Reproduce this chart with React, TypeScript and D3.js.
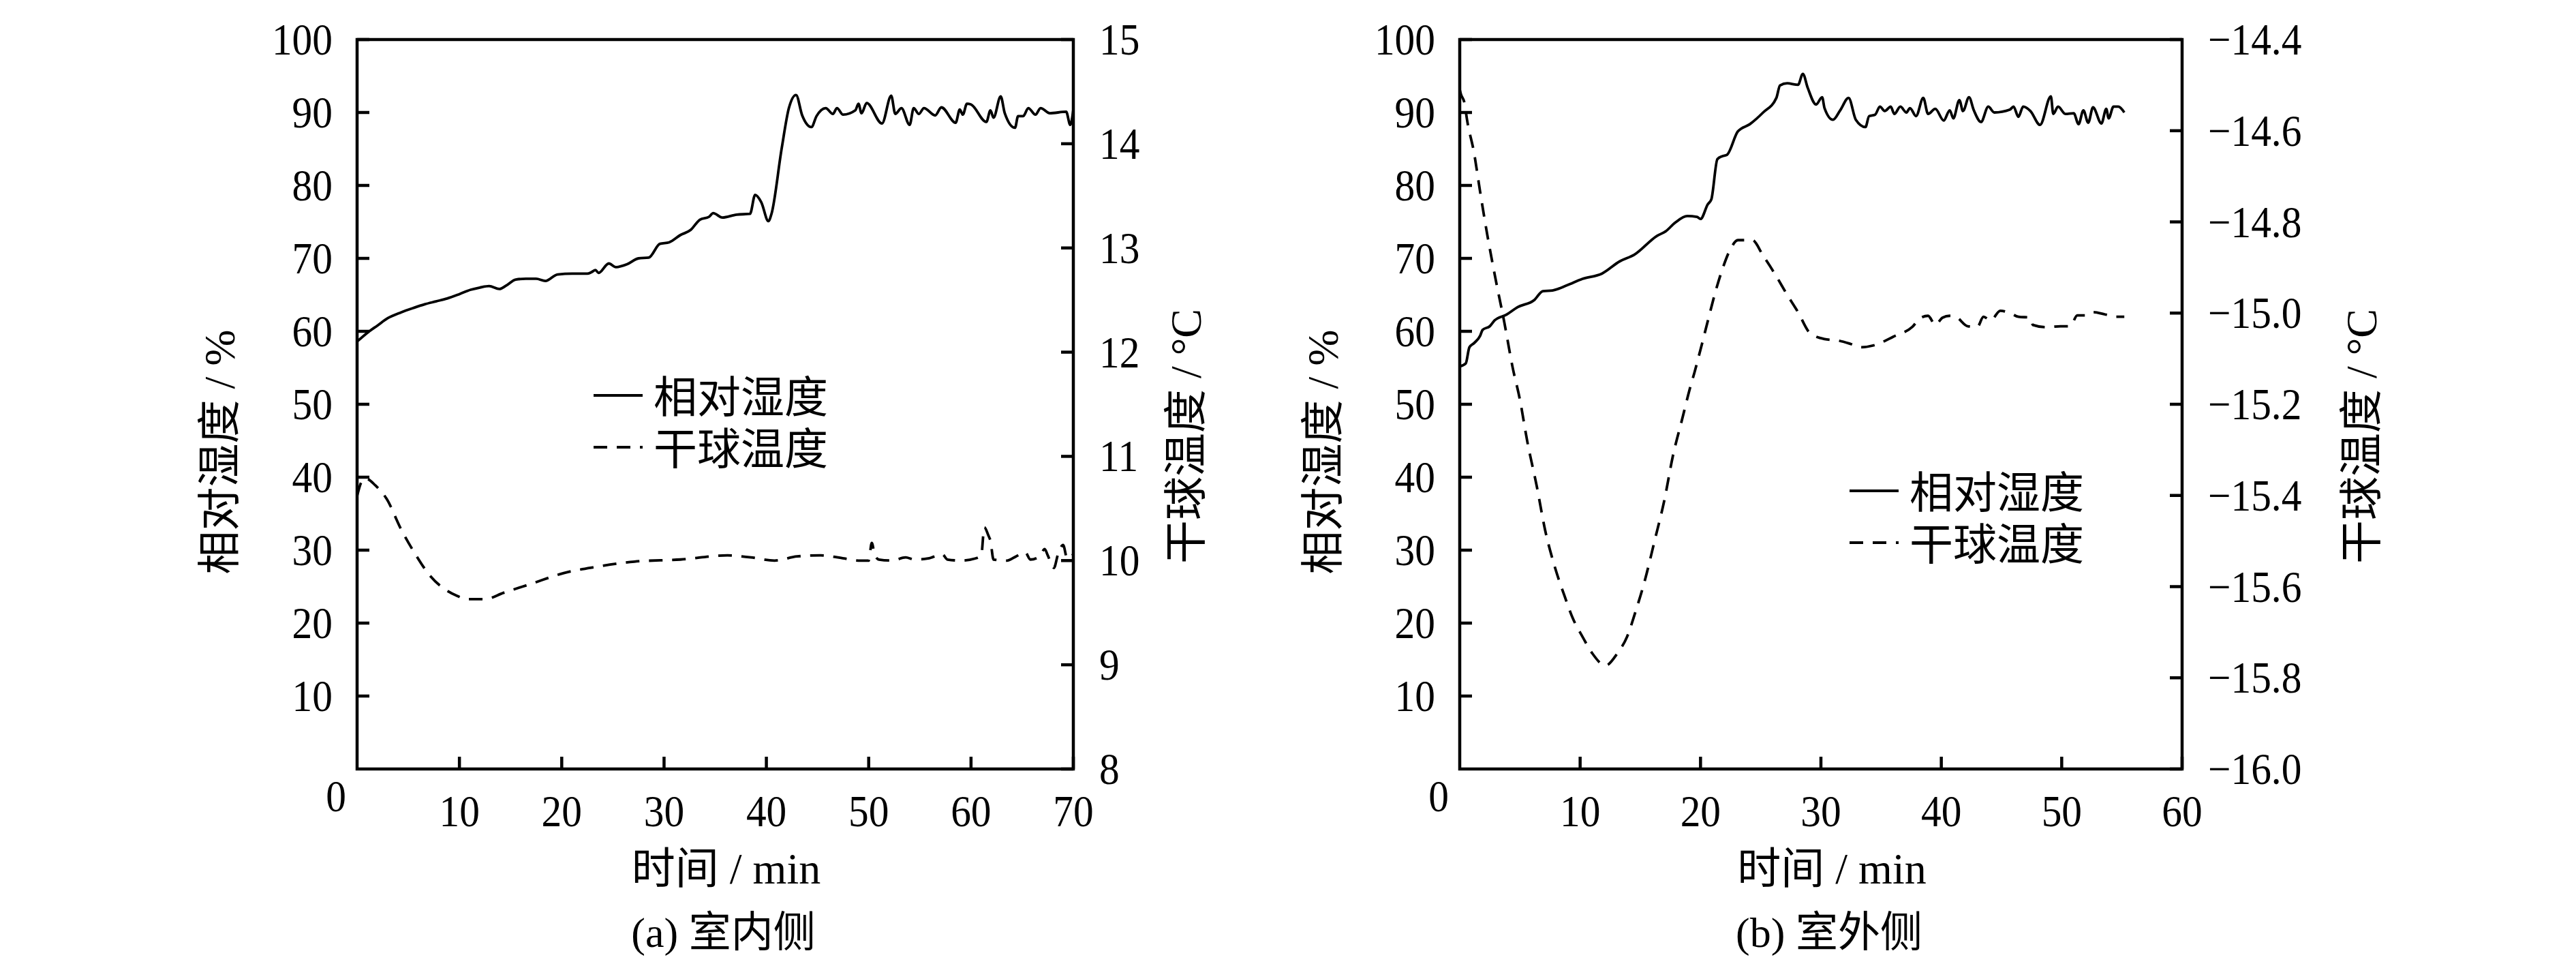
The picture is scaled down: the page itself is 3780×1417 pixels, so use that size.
import React from 'react';
import * as d3 from 'd3';

// (a) indoor side: [time min, relative humidity %]
const indoorRH: [number, number][] = [
  [0, 58.6], [1, 59.8], [2, 60.8], [3, 61.8], [4.3, 62.6], [5.5, 63.2], [6.6, 63.7], [7.7, 64.1],
  [8.8, 64.5], [10, 65.1], [11.1, 65.7], [12, 66.0], [12.9, 66.2], [13.9, 65.8], [14.6, 66.3],
  [15.5, 67.1], [16.5, 67.2], [17.5, 67.2], [18.4, 66.9], [19.6, 67.8], [21, 67.9], [22.5, 67.9],
  [22.9, 68.1], [23.3, 68.4], [23.6, 68.0], [24.6, 69.3], [25.3, 68.8], [26.4, 69.2], [27.5, 70.0],
  [28.5, 70.1], [29.6, 72.0], [30.5, 72.2], [31.6, 73.2], [32.6, 73.9], [33.5, 75.3], [34.4, 75.7],
  [34.8, 76.2], [35.7, 75.6], [37.1, 76.0], [38.4, 76.1], [38.9, 78.7], [39.5, 77.7], [40.2, 75.1],
  [40.5, 76.1], [41.5, 85.1], [42.2, 90.6], [42.9, 92.4], [43.5, 89.6], [44.4, 88.0], [44.9, 89.5],
  [45.8, 90.6], [46.5, 89.8], [46.9, 90.6], [47.5, 89.7], [48.7, 90.3], [49.0, 91.2], [49.3, 89.9],
  [49.8, 91.3], [51.3, 88.5], [52.2, 92.3], [52.6, 89.8], [53.2, 90.6], [54.0, 88.3], [54.4, 90.6],
  [54.9, 89.8], [55.4, 90.6], [56.5, 89.6], [57.1, 90.7], [58.5, 88.6], [58.9, 90.4], [59.2, 89.7],
  [59.6, 91.2], [60.0, 91.1], [61.5, 88.7], [61.9, 90.3], [62.2, 89.3], [62.9, 92.2], [63.3, 89.9],
  [64.3, 87.9], [64.6, 89.5], [65.1, 89.5], [65.6, 90.6], [66.3, 89.7], [66.8, 90.6], [67.7, 89.9],
  [69.3, 90.1], [69.7, 88.3], [70.0, 90.4],
];

// (a) indoor side: [time min, dry-bulb temperature °C]
const indoorTemp: [number, number][] = [
  [0, 10.62], [0.4, 10.75], [0.8, 10.79], [1.8, 10.72], [2.9, 10.59], [4.3, 10.30], [5.7, 10.06],
  [7.0, 9.87], [8.8, 9.71], [9.8, 9.66], [10.7, 9.63], [12.5, 9.63], [14.3, 9.69], [17.1, 9.78],
  [20.2, 9.88], [23.4, 9.94], [27.1, 9.99], [31.6, 10.01], [36.2, 10.05], [38.5, 10.03], [40.8, 10.0],
  [43.0, 10.04], [45.3, 10.05], [47.6, 10.02], [49.0, 10.0], [50.0, 10.0], [50.3, 10.17], [50.6, 10.05],
  [51.0, 10.01], [52.3, 10.0], [53.6, 10.03], [54.5, 10.01], [55.8, 10.02], [57.2, 10.06], [57.7, 10.01],
  [59.0, 10.0], [60.4, 10.02], [61.0, 10.05], [61.3, 10.32], [61.7, 10.24], [61.9, 10.19], [62.2, 10.01],
  [63.5, 10.0], [64.4, 10.04], [65.3, 10.08], [65.8, 10.01], [66.7, 10.04], [67.2, 10.11], [67.5, 10.05],
  [68.1, 9.93], [68.5, 10.06], [69.0, 10.15], [69.4, 10.02], [70.0, 10.06],
];

// (b) outdoor side: [time min, relative humidity %]
const outdoorRH: [number, number][] = [
  [0, 55.2], [0.5, 55.6], [0.8, 57.8], [1.2, 58.4], [1.7, 59.4], [1.9, 60.2], [2.5, 60.7], [2.9, 61.5],
  [3.9, 62.3], [4.8, 63.3], [6.2, 64.3], [6.9, 65.5], [7.7, 65.6], [8.9, 66.3], [10.2, 67.2], [11.8, 67.9],
  [13.3, 69.6], [14.5, 70.5], [16.4, 73.1], [17.1, 73.7], [17.9, 74.9], [18.9, 75.8], [19.7, 75.7],
  [20.0, 75.4], [20.6, 77.4], [20.9, 78.1], [21.4, 83.6], [21.8, 84.0], [22.2, 84.2], [23.1, 87.4],
  [24.1, 88.4], [25.2, 90.0], [26.3, 92.0], [26.6, 93.7], [27.2, 94.0], [28.1, 93.8], [28.5, 95.3],
  [28.9, 93.4], [29.6, 91.1], [30.1, 92.1], [30.3, 90.6], [31.0, 89.0], [31.6, 90.3], [32.3, 92.0],
  [32.9, 89.0], [33.7, 88.0], [34.0, 89.5], [34.5, 89.7], [34.9, 90.8], [35.3, 90.2], [35.8, 90.8],
  [36.1, 89.8], [36.6, 90.8], [37.1, 90.0], [37.4, 90.6], [37.9, 89.5], [38.5, 92.0], [38.9, 89.8],
  [39.5, 90.5], [40.2, 88.9], [40.7, 90.3], [41.0, 89.2], [41.5, 91.7], [41.8, 90.2], [42.3, 92.1],
  [42.7, 90.3], [43.3, 88.7], [43.9, 90.8], [44.4, 90.0], [45.7, 90.4], [46.0, 90.8], [46.4, 89.4],
  [46.8, 90.8], [47.4, 90.2], [48.2, 88.3], [49.1, 92.2], [49.3, 89.8], [49.7, 90.8], [50.3, 89.8],
  [51.0, 89.9], [51.4, 88.4], [51.8, 90.3], [52.2, 88.6], [52.6, 90.7], [53.3, 88.5], [53.7, 90.5],
  [53.9, 89.2], [54.3, 90.8], [54.7, 90.8], [55.2, 90.0],
];

// (b) outdoor side: [time min, dry-bulb temperature °C]
const outdoorTemp: [number, number][] = [
  [0, -14.51], [0.1, -14.52], [0.4, -14.54], [0.6, -14.575], [1.2, -14.65], [1.7, -14.735], [2.3, -14.83],
  [2.9, -14.915], [3.7, -15.02], [4.4, -15.12], [5.0, -15.19], [5.6, -15.28], [6.4, -15.38], [7.1, -15.477],
  [7.9, -15.557], [8.7, -15.62], [9.4, -15.67], [10.2, -15.71], [11.0, -15.746], [12.1, -15.773],
  [13.1, -15.746], [13.9, -15.71], [14.6, -15.655], [15.4, -15.584], [16.2, -15.498], [17.0, -15.41],
  [17.7, -15.314], [18.5, -15.23], [19.1, -15.167], [19.5, -15.13], [20.0, -15.08], [20.6, -15.018],
  [21.2, -14.957], [21.8, -14.905], [22.5, -14.859], [23.1, -14.84], [24.3, -14.84], [25.2, -14.874],
  [26.2, -14.915], [27.2, -14.96], [28.1, -14.998], [29.1, -15.044], [30.3, -15.057], [31.4, -15.06],
  [32.5, -15.068], [33.3, -15.075], [34.5, -15.07], [36.0, -15.052], [37.6, -15.03], [38.3, -15.01],
  [38.9, -15.006], [39.5, -15.026], [40.1, -15.01], [40.7, -15.006], [41.2, -15.008], [42.2, -15.029],
  [43.0, -15.03], [43.5, -15.008], [44.1, -15.016], [44.9, -14.995], [45.7, -15.0], [46.4, -15.008],
  [47.4, -15.01], [47.6, -15.026], [48.7, -15.031], [49.9, -15.029], [50.7, -15.029], [51.3, -15.005],
  [52.0, -15.005], [52.6, -14.998], [53.6, -15.003], [54.5, -15.008], [55.2, -15.008],
];

const rhTicks = [10, 20, 30, 40, 50, 60, 70, 80, 90, 100];
const indoorTimeTicks = [10, 20, 30, 40, 50, 60, 70];
const outdoorTimeTicks = [10, 20, 30, 40, 50, 60];
const indoorTempTicks = [8, 9, 10, 11, 12, 13, 14, 15];
const outdoorTempTicks = [-16.0, -15.8, -15.6, -15.4, -15.2, -15.0, -14.8, -14.6, -14.4];
const legendLabels = ['相对湿度', '干球温度'];

const SERIF = "'Liberation Serif', 'Times New Roman', 'Noto Sans CJK SC', serif";
const TOP = 58;
const BOTTOM = 1128;
const TICK = 18;
const DASH = '20 14';

interface PanelProps {
  left: number;
  right: number;
  rh: [number, number][];
  temp: [number, number][];
  xMax: number;
  xTicks: number[];
  tempDomain: [number, number];
  tempTicks: number[];
  tempFormat: (v: number) => string;
  leftTitleX: number;
  rightTitleX: number;
  legendX: number;
  legendY: number;
  caption: string;
}

function Num({ x, y, anchor, children }: { x: number; y: number; anchor: string; children: string }) {
  return (
    <text
      transform={`translate(${x},${y}) scale(0.9,1)`}
      textAnchor={anchor}
      fontSize={66}
      fontFamily={SERIF}
    >
      {children}
    </text>
  );
}

function Panel(p: PanelProps) {
  const x = d3.scaleLinear().domain([0, p.xMax]).range([p.left, p.right]);
  const yRH = d3.scaleLinear().domain([0, 100]).range([BOTTOM, TOP]);
  const yT = d3.scaleLinear().domain(p.tempDomain).range([BOTTOM, TOP]);

  const rhLine = d3
    .line<[number, number]>()
    .x((d) => x(d[0]))
    .y((d) => yRH(d[1]))
    .curve(d3.curveMonotoneX);
  const tLine = d3
    .line<[number, number]>()
    .x((d) => x(d[0]))
    .y((d) => yT(d[1]))
    .curve(d3.curveMonotoneX);

  const cx = (p.left + p.right) / 2;
  const midY = (TOP + BOTTOM) / 2;

  return (
    <g>
      {/* curves */}
      <path d={rhLine(p.rh) as string} fill="none" stroke="#000" strokeWidth={3.8} strokeLinejoin="round" />
      <path
        d={tLine(p.temp) as string}
        fill="none"
        stroke="#000"
        strokeWidth={3.8}
        strokeDasharray={DASH}
      />

      {/* frame */}
      <rect
        x={p.left}
        y={TOP}
        width={p.right - p.left}
        height={BOTTOM - TOP}
        fill="none"
        stroke="#000"
        strokeWidth={4.5}
      />

      {/* left axis */}
      {rhTicks.map((t) => (
        <g key={`l${t}`}>
          <line x1={p.left} x2={p.left + TICK} y1={yRH(t)} y2={yRH(t)} stroke="#000" strokeWidth={4.5} />
          <Num x={p.left - 36} y={yRH(t) + 22} anchor="end">
            {String(t)}
          </Num>
        </g>
      ))}

      {/* bottom axis */}
      {p.xTicks.map((t) => (
        <g key={`b${t}`}>
          <line x1={x(t)} x2={x(t)} y1={BOTTOM} y2={BOTTOM - TICK} stroke="#000" strokeWidth={4.5} />
          <Num x={x(t)} y={BOTTOM + 84} anchor="middle">
            {String(t)}
          </Num>
        </g>
      ))}
      <Num x={p.left - 31} y={BOTTOM + 62} anchor="middle">
        0
      </Num>

      {/* right axis */}
      {p.tempTicks.map((t) => (
        <g key={`r${t}`}>
          <line x1={p.right} x2={p.right - TICK} y1={yT(t)} y2={yT(t)} stroke="#000" strokeWidth={4.5} />
          <Num x={p.right + 38} y={yT(t) + 22} anchor="start">
            {p.tempFormat(t)}
          </Num>
        </g>
      ))}

      {/* axis titles */}
      <text
        transform={`translate(${p.leftTitleX},${midY + 70}) rotate(-90)`}
        textAnchor="middle"
        dominantBaseline="central"
        fontSize={64}
        fontFamily={SERIF}
      >
        相对湿度 / %
      </text>
      <text
        transform={`translate(${p.rightTitleX},${midY + 47}) rotate(-90)`}
        textAnchor="middle"
        dominantBaseline="central"
        fontSize={64}
        fontFamily={SERIF}
      >
        干球温度 / °C
      </text>
      <text x={cx + 16} y={BOTTOM + 146} textAnchor="middle" dominantBaseline="central" fontSize={64} fontFamily={SERIF}>
        时间 / min
      </text>
      <text x={cx + 12} y={1368} textAnchor="middle" dominantBaseline="central" fontSize={62} fontFamily={SERIF}>
        {p.caption}
      </text>

      {/* legend */}
      {legendLabels.map((label, i) => {
        const ly = p.legendY + i * 76;
        return (
          <g key={label}>
            <line
              x1={p.legendX}
              x2={p.legendX + 72}
              y1={ly}
              y2={ly}
              stroke="#000"
              strokeWidth={4}
              strokeDasharray={i === 0 ? undefined : DASH}
            />
            <text
              x={p.legendX + 88}
              y={ly + 3}
              dominantBaseline="central"
              fontSize={64}
              fontFamily={SERIF}
            >
              {label}
            </text>
          </g>
        );
      })}
    </g>
  );
}

const fmtIndoor = (v: number) => String(v);
const fmtOutdoor = (v: number) => d3.format('.1f')(v).replace('-', '\u2212');

export default function App() {
  return (
    <svg
      width={3780}
      height={1417}
      viewBox="0 0 3780 1417"
      style={{ position: 'absolute', left: 0, top: 0, background: '#fff' }}
    >
      <rect width={3780} height={1417} fill="#fff" />
      <Panel
        left={524}
        right={1575}
        rh={indoorRH}
        temp={indoorTemp}
        xMax={70}
        xTicks={indoorTimeTicks}
        tempDomain={[8, 15]}
        tempTicks={indoorTempTicks}
        tempFormat={fmtIndoor}
        leftTitleX={322}
        rightTitleX={1740}
        legendX={871}
        legendY={580}
        caption="(a) 室内侧"
      />
      <Panel
        left={2142}
        right={3202}
        rh={outdoorRH}
        temp={outdoorTemp}
        xMax={60}
        xTicks={outdoorTimeTicks}
        tempDomain={[-16, -14.4]}
        tempTicks={outdoorTempTicks}
        tempFormat={fmtOutdoor}
        leftTitleX={1941}
        rightTitleX={3465}
        legendX={2714}
        legendY={720}
        caption="(b) 室外侧"
      />
    </svg>
  );
}
